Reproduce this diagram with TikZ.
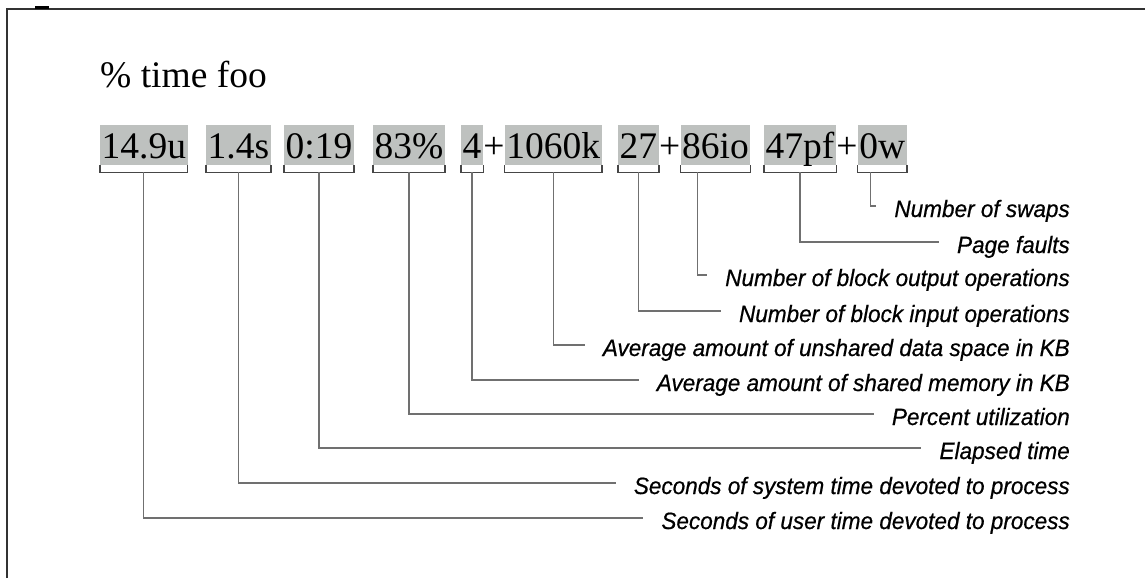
\documentclass[tikz,border=0pt]{standalone}
\usepackage{fontspec}
\setmainfont{Liberation Serif}
\newfontfamily\notefont[FakeStretch=0.955,FakeBold=0.6]{Liberation Sans}
\usetikzlibrary{positioning}
\definecolor{fieldgray}{RGB}{190,193,191}
\definecolor{bracegray}{RGB}{70,70,70}
\definecolor{leadgray}{RGB}{112,112,112}
\definecolor{framegray}{RGB}{50,50,50}

\begin{document}
\begin{tikzpicture}[x=1pt, y=-1pt,
    field/.style={fill=fieldgray, inner xsep=1.5pt, inner ysep=0pt, text height=33pt, text depth=7pt, anchor=base west, font=\fontsize{37.5}{40}\selectfont},
    plus/.style={inner sep=0pt, text height=33pt, text depth=7pt, font=\fontsize{37.5}{40}\selectfont},
    brace/.style={draw=bracegray, line width=1.3pt},
    leader/.style={draw=leadgray, line width=1.2pt, shorten >=18pt},
    note/.style={inner sep=0pt, text height=22pt, text depth=0pt, anchor=east, font=\notefont\itshape\fontsize{23.6}{26}\selectfont}]
  %tikz  time output, fields
    \useasboundingbox (0,0) rectangle (1145,578);
    \draw[line width=1.5pt, draw=framegray] (7,578) -- (7,9) -- (1145,9);
    \draw[line width=3pt] (35,8) -- (49,8);
    \node[anchor=base west, inner sep=0pt, font=\fontsize{37.5}{40}\selectfont] (cmd) at (100,88) {\% time foo};
    \node[field] (n149u) at (100,158) {14.9u};
    \node[field] (n14s) at (206,158) {1.4s};
    \node[field] (n019) at (284,158) {0:19};
    \node[field] (n83) at (373,158) {83\%};
    \node[field] (n4) at (461,158) {4};
    \node[plus, right=0pt of n4] (plusA) {+};
    \node[field, right=0pt of plusA] (n1060k) {1060k};
    \node[field] (n27) at (618,158) {27};
    \node[plus, right=0pt of n27] (plusB) {+};
    \node[field, right=0pt of plusB] (n86io) {86io};
    \node[field] (n47pf) at (764,158) {47pf};
    \node[plus, right=0pt of n47pf] (plusC) {+};
    \node[field, right=0pt of plusC] (n0w) {0w};
    \foreach \f in {n149u,n14s,n019,n83,n4,n1060k,n27,n86io,n47pf,n0w}
      \draw[brace] (\f.south west) -- ([yshift=-7pt]\f.south west) -- ([yshift=-7pt]\f.south east) -- (\f.south east);
  %tikz  notes
    \node[note] (lbswap) at (1070,206) {Number of swaps};
    \node[note] (lbpage) at (1070,242) {Page faults};
    \node[note] (lbout) at (1070,275) {Number of block output operations};
    \node[note] (lbin) at (1070,311) {Number of block input operations};
    \node[note] (lbdata) at (1070,345) {Average amount of unshared data space in KB};
    \node[note] (lbshared) at (1070,380) {Average amount of shared memory in KB};
    \node[note] (lbcpu) at (1070,414) {Percent utilization};
    \node[note] (lbreal) at (1070,448) {Elapsed time};
    \node[note] (lbsys) at (1070,483) {Seconds of system time devoted to process};
    \node[note] (lbuser) at (1070,518) {Seconds of user time devoted to process};
    \draw[leader] ([xshift=-12pt,yshift=-7pt]n0w.south) |- (lbswap.west);
    \draw[leader] ([yshift=-7pt]n47pf.south) |- (lbpage.west);
    \draw[leader] ([xshift=-18pt,yshift=-7pt]n86io.south) |- (lbout.west);
    \draw[leader] ([yshift=-7pt]n27.south) |- (lbin.west);
    \draw[leader] ([yshift=-7pt]n1060k.south) |- (lbdata.west);
    \draw[leader] ([yshift=-7pt]n4.south) |- (lbshared.west);
    \draw[leader] ([yshift=-7pt]n83.south) |- (lbcpu.west);
    \draw[leader] ([yshift=-7pt]n019.south) |- (lbreal.west);
    \draw[leader] ([yshift=-7pt]n14s.south) |- (lbsys.west);
    \draw[leader] ([yshift=-7pt]n149u.south) |- (lbuser.west);
  \end{tikzpicture}
\end{document}
